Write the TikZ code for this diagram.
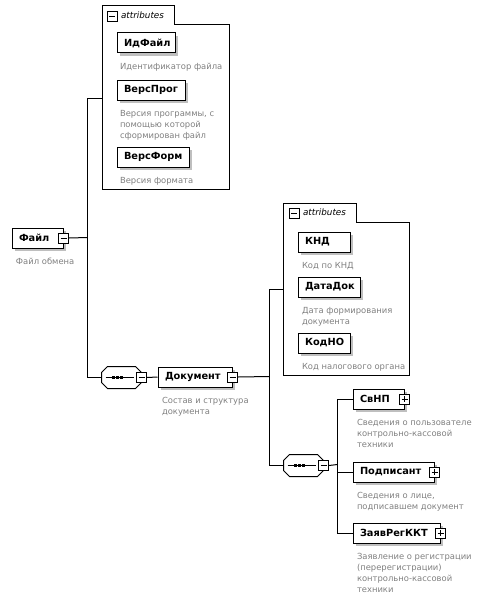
\documentclass[tikz,border=0pt]{standalone}
\usepackage{fontspec}
\setmainfont{DejaVu Sans}
\usetikzlibrary{calc,shadows}

\tikzset{
    elem/.style={draw, fill=white, anchor=north west, minimum height=20pt,
        inner xsep=7pt, inner ysep=0pt, font=\fontsize{9.8}{11}\selectfont\bfseries,
        drop shadow={shadow xshift=3pt, shadow yshift=-3pt, fill=gray!50, opacity=1}},
    note/.style={anchor=north west, inner sep=0pt, align=left, text=gray,
        font=\fontsize{8.4}{11}\selectfont},
    mbox/.style={draw, fill=white, minimum size=10pt, inner sep=0pt,
        path picture={\draw ($(path picture bounding box.west)+(2,0)$) -- ($(path picture bounding box.east)+(-2,0)$);}},
    pbox/.style={draw, fill=white, minimum size=10pt, inner sep=0pt,
        path picture={\draw ($(path picture bounding box.west)+(2,0)$) -- ($(path picture bounding box.east)+(-2,0)$);
                      \draw ($(path picture bounding box.north)+(0,2)$) -- ($(path picture bounding box.south)+(0,-2)$);}},
    seq/.style={anchor=north west, minimum width=39pt, minimum height=21pt, inner sep=0pt},
    attrtxt/.style={anchor=west, inner sep=0pt, font=\fontsize{8.8}{10}\selectfont\itshape},
}

% sequence compositor: octagon with shadow and dots
\newcommand\seqoct[1]{%
    ($(#1.north west)+(6,0)$) -- ($(#1.north east)+(-6,0)$) -- ($(#1.north east)+(0,6)$)
    -- ($(#1.south east)+(0,-6)$) -- ($(#1.south east)+(-6,0)$) -- ($(#1.south west)+(6,0)$)
    -- ($(#1.south west)+(0,-6)$) -- ($(#1.north west)+(0,6)$) -- cycle}
\newcommand\drawseq[1]{%
    \fill[gray!50, shift={(3,3)}] \seqoct{#1};
    \draw[fill=white] \seqoct{#1};
    \draw ($(#1.west)+(4,0)$) -- ($(#1.east)+(-8,0)$);
    \foreach \dx in {-8,-4,0}
        \fill ($(#1.center)+(\dx-1.4,-1.4)$) rectangle ++(2.8,2.8);
}

\begin{document}
\begin{tikzpicture}[x=1pt, y=-1pt, line width=1pt]
    \useasboundingbox (0,0) rectangle (483,594);
    \begin{scope}[shift={(0.5,0.5)}]

    % root
    \node[elem, text width=37pt] (Fajl) at (11,227) {Файл};
    \node[mbox] (mFajl) at (Fajl.east) {};
    \node[note] (dFajl) at ($(Fajl.south west)+(4,9)$) {Файл обмена};

    % attributes of Файл
    \draw (102,5) -- (174,5) -- (174,24) -- (229,24) -- (229,189) -- (102,189) -- cycle;
    \coordinate (a1) at (102,98);
    \node[mbox] (mA1) at (111.5,16) {};
    \node[attrtxt] (tA1) at (120,15) {attributes};

    \node[elem, text width=44pt] (IdFajl) at (116,32) {ИдФайл};
    \node[note] (dIdFajl) at ($(IdFajl.south west)+(3,9)$) {Идентификатор файла};
    \node[elem, text width=54pt] (VersProg) at (116,79) {ВерсПрог};
    \node[note] (dVersProg) at ($(VersProg.south west)+(3,9)$) {Версия программы, с\\помощью которой\\сформирован файл};
    \node[elem, text width=58pt] (VersForm) at (116,146) {ВерсФорм};
    \node[note] (dVersForm) at ($(VersForm.south west)+(3,9)$) {Версия формата};

    % sequence -> Документ
    \node[seq] (seq1) at (101,366) {};
    \drawseq{seq1}
    \node[mbox] (mSeq1) at (seq1.east) {};

    \node[elem, text width=60pt] (Dok) at (157,366) {Документ};
    \node[mbox] (mDok) at (Dok.east) {};
    \node[note] (dDok) at ($(Dok.south west)+(4,9)$) {Состав и структура\\документа};

    % attributes of Документ
    \draw (283,203) -- (356,203) -- (356,222) -- (409,222) -- (409,375) -- (283,375) -- cycle;
    \coordinate (a2) at (283,289);
    \node[mbox] (mA2) at (293.5,213) {};
    \node[attrtxt] (tA2) at (302,212) {attributes};

    \node[elem, text width=38pt] (KND) at (297,231) {КНД};
    \node[note] (dKND) at ($(KND.south west)+(4,9)$) {Код по КНД};
    \node[elem, text width=48pt] (DataDok) at (297,276) {ДатаДок};
    \node[note] (dDataDok) at ($(DataDok.south west)+(4,9)$) {Дата формирования\\документа};
    \node[elem, text width=38pt] (KodNO) at (297,332) {КодНО};
    \node[note] (dKodNO) at ($(KodNO.south west)+(4,9)$) {Код налогового органа};

    % sequence -> children of Документ
    \node[seq] (seq2) at (283,454) {};
    \drawseq{seq2}
    \node[mbox] (mSeq2) at (seq2.east) {};

    \node[elem, text width=37pt] (SvNP) at (352,388) {СвНП};
    \node[pbox] (pSvNP) at (SvNP.east) {};
    \node[note] (dSvNP) at ($(SvNP.south west)+(4,9)$) {Сведения о пользователе\\контрольно-кассовой\\техники};
    \node[elem, text width=67pt] (Podpisant) at (352,461) {Подписант};
    \node[pbox] (pPodpisant) at (Podpisant.east) {};
    \node[note] (dPodpisant) at ($(Podpisant.south west)+(4,9)$) {Сведения о лице,\\подписавшем документ};
    \node[elem, text width=73pt] (ZayavRegKKT) at (352,522) {ЗаявРегККТ};
    \node[pbox] (pZayavRegKKT) at (ZayavRegKKT.east) {};
    \node[note] (dZayavRegKKT) at ($(ZayavRegKKT.south west)+(4,9)$) {Заявление о регистрации\\(перерегистрации)\\контрольно-кассовой\\техники};

    % connectors
    \coordinate (bus1) at (87,237);
    \coordinate (bus2) at (269,376);
    \coordinate (bus3) at (337,464);

    \draw (mFajl.east) -- (bus1);
    \draw (a1) -| (bus1) |- (seq1.west);
    \draw (mSeq1.east) -- (Dok.west);

    \draw (mDok.east) -- (bus2);
    \draw (a2) -| (bus2) |- (seq2.west);

    \draw (mSeq2.east) -- (bus3);
    \draw (SvNP.west) -| (bus3) |- (ZayavRegKKT.west);
    \draw (Podpisant.west) -- (bus3 |- Podpisant.west);
    \end{scope}
\end{tikzpicture}
\end{document}
